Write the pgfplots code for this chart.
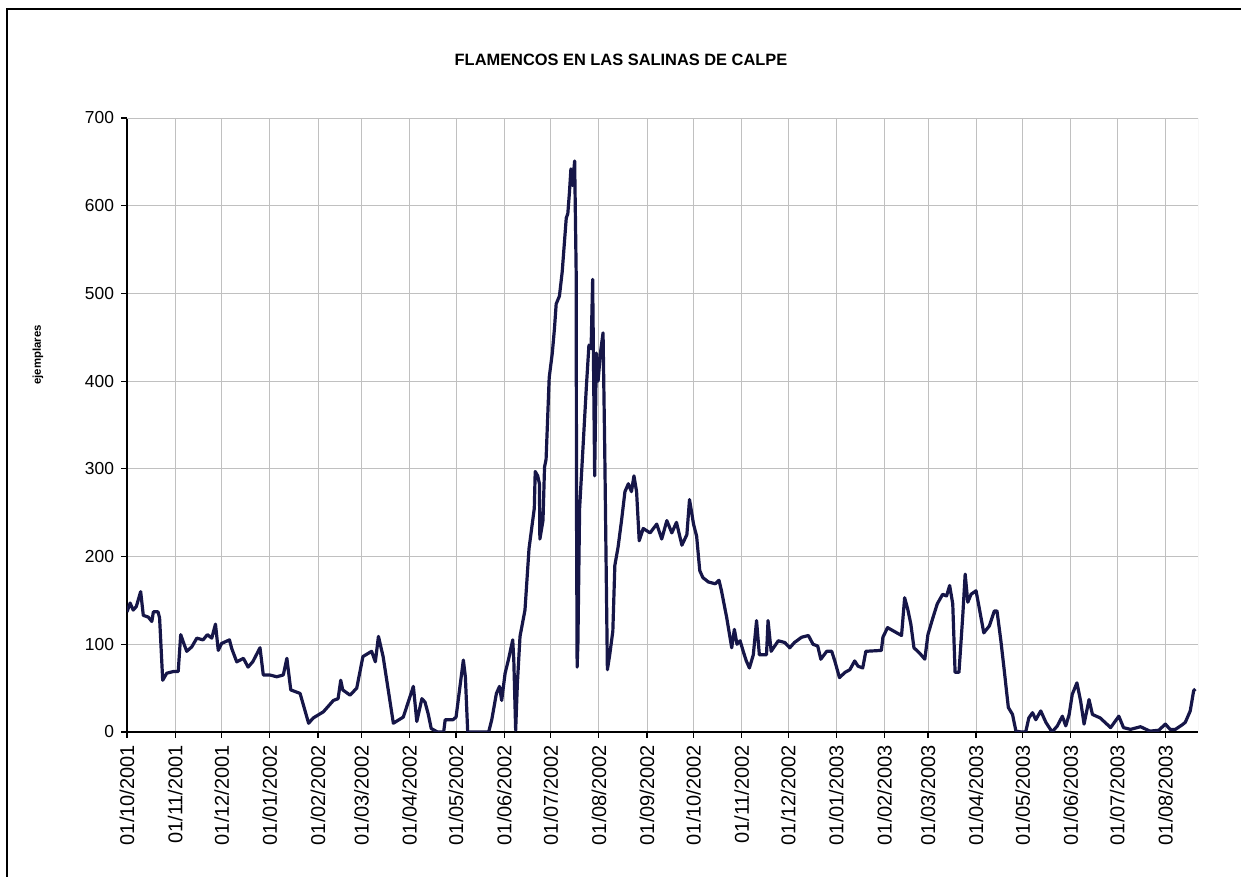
\documentclass[border=0pt]{standalone}
\usepackage{fontspec}
\setmainfont{Liberation Sans}
\usepackage{pgfplots}
\pgfplotsset{compat=1.18}
\definecolor{navy}{RGB}{22,22,72}
\definecolor{gridgray}{RGB}{192,192,192}
\begin{document}
\begin{tikzpicture}
\useasboundingbox (0pt,0pt) rectangle (620.5pt,438.5pt);
\draw[line width=1.1pt] (3.5pt,-2pt) -- (3.5pt,434pt) -- (623pt,434pt);
\node[font=\bfseries\fontsize{8.2}{9}\selectfont] at (310.5pt,408.5pt) {FLAMENCOS EN LAS SALINAS DE CALPE};
\node[font=\bfseries\fontsize{5.7}{6}\selectfont, rotate=90] at (19pt,261pt) {ejemplares};
\begin{axis}[
  at={(63.5pt,72.5pt)}, anchor=south west,
  width=535.5pt, height=307pt, scale only axis,
  xmin=0, xmax=690, ymin=0, ymax=700,
  ytick={0,100,...,700},
  xtick={0,31,61,92,123,151,182,212,243,273,304,335,365,396,426,457,488,516,547,577,608,638,669},
  xticklabels={01/10/2001,01/11/2001,01/12/2001,01/01/2002,01/02/2002,01/03/2002,01/04/2002,01/05/2002,01/06/2002,01/07/2002,01/08/2002,01/09/2002,01/10/2002,01/11/2002,01/12/2002,01/01/2003,01/02/2003,01/03/2003,01/04/2003,01/05/2003,01/06/2003,01/07/2003,01/08/2003},
  axis lines=left,
  axis line style={-, black, line width=0.6pt},
  tick align=outside, major tick length=3pt,
  tick style={black, line width=0.6pt},
  grid=major, grid style={gridgray, line width=0.4pt},
  x tick label style={rotate=90, anchor=east, font=\fontsize{10}{11}\selectfont},
  y tick label style={font=\fontsize{8.7}{10}\selectfont},
  /pgf/number format/assume math mode=true,
]
\draw[gridgray, line width=0.4pt] (rel axis cs:0,1) -- (rel axis cs:1,1) -- (rel axis cs:1,0);
\addplot[navy, line width=1.6pt, line join=round] table {
x y
0 137
2 147
4 139
6 143
8.8 160
10.5 133
13.7 131
16 126
17 137
20 137
21 130
23 59
25.6 67
30 69
33 69
34.6 111
37 99
38.5 92
41.7 97
45 107
49 105
51.8 111
54.6 107
57 123
58.8 93
61 101
66 105
67.5 95
70.7 80
75 84
78 74
81 80
85.7 96
87.8 65
92 65
96.5 63
100.7 65
103 84
105.5 48
111.5 44
117 10
120 16
126.5 23
133 36
136 38
137.7 59
139 48
143.7 42
148 50
152 86
157.6 92
160 80
162 109
165 86
171.6 10
178 17
184.5 52
186.7 12
190 38
192 34
194 21
196 4
200 0
204 0
205 14
210 14
212 17
216.7 82
218 63
219.5 0
233 0
235 14
238 44
240 52
241.4 36
243.6 67
245.7 82
248.5 105
249.2 82
250.4 2
251.5 55
253.2 109
256.4 139
259 209
262.4 255
263 297
264.6 292
265.7 283
266 220
268 241
269 302
270 311
272 404
274 432
275.4 460
276.5 488
278.6 497
280.4 525
283 586
284 591
285 614
286 642
287 623
288.4 651
289.4 521
289.6 255
290 74
290.5 101
291.6 255
293.8 325
296 395
297.6 441
299 437
300 516
301.3 292
302.4 432
303.5 400
305 432
306.7 455
307.8 320
309.5 71
311 88
313 115
314.3 190
316.4 211
318.6 241
320.8 274
323 283
325 274
326.6 292
328.3 274
330 218
332.6 232
337 227
341.3 237
344.5 220
347.8 241
351 227
354 239
357.5 213
360.7 225
362.4 265
365 237
367 223
369 184
371 176
374.6 171
379 169
381.4 173
383 161
386.4 130
389.6 96
391.3 117
393 100
395 104
397 92
399 81
401 73
403.5 88
405.6 127
407.4 88
412 88
413 127
415 92
419.6 104
423.8 102
427 96
430 102
434.6 108
439 110
442 100
445 98
447 83
450.8 92
454 92
456 81
459 62
462.6 68
465.7 71
468.8 81
471 75
474 73
476 92
486 93
487 108
490 119
494 115
499 110
501 153
503 140
505 123
507 96
510.6 90
514 83
516 111
519 129
522 146
525.5 157
528 155
530 167
532 146
533.5 68
536 68
538.5 134
540 180
541.7 148
543.8 157
547 161
549 142
552 113
555.6 121
558.8 138
560.5 138
563 104
565 73
567.8 28
570.5 20
572.7 1
576 0
579 0
581 16
583.4 22
585.5 14
588.7 24
592 11
596 0
599.4 7
602.6 18
604.8 7
607 20
609 43
612 56
614.4 35
616.6 9
619.8 37
622 20
627 16
633.7 5
639 18
642 5
646.5 3
653 6
659 1
664.7 2
669 9
672 3
675.4 3
679.7 8
681.8 11
685 24
687.2 47
688.3 49
};
\end{axis}
\end{tikzpicture}
\end{document}
